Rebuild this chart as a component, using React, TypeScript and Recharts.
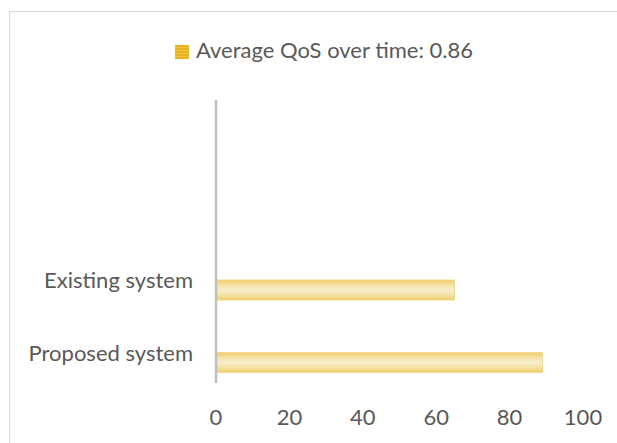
import { Bar, BarChart, XAxis, YAxis, Legend } from 'recharts';

const categories = ['Existing system', 'Proposed system'];
const qosValues = [65, 89];
const xTicks = [0, 20, 40, 60, 80, 100];
const seriesName = 'Average QoS over time: 0.86';

const chartData = categories.map((name, i) => ({ name, qos: qosValues[i] }));

const FONT = 'Lato, "Open Sans", sans-serif';
const TEXT_COLOR = '#595959';

const YTick = ({ x, y, payload }: any) => (
  <text x={x} y={y - 2} textAnchor="end" fill={TEXT_COLOR} fontSize={22} fontFamily={FONT}>
    {payload.value}
  </text>
);

const XTick = ({ x, y, payload }: any) => (
  <text x={x} y={y + 34} textAnchor="middle" fill={TEXT_COLOR} fontSize={22} fontFamily={FONT}>
    {payload.value}
  </text>
);

const LegendContent = () => (
  <div style={{ display: 'flex', alignItems: 'center', height: 22, lineHeight: '22px' }}>
    <span
      style={{
        display: 'inline-block',
        width: 14,
        height: 14,
        marginTop: 3,
        marginRight: 7,
        background: 'repeating-linear-gradient(180deg, #e8b11e 0px, #e8b11e 2px, #f0c445 2px, #f0c445 3px)',
      }}
    />
    <span style={{ fontFamily: FONT, fontSize: 22, color: TEXT_COLOR, whiteSpace: 'nowrap' }}>{seriesName}</span>
  </div>
);

export default function App() {
  return (
    <div
      style={{
        position: 'absolute',
        left: 9,
        top: 11,
        width: 608,
        height: 432,
        borderTop: '1px solid #d9d9d9',
        borderLeft: '1px solid #d9d9d9',
        background: '#fff',
      }}
    >
      <BarChart
        width={607}
        height={431}
        data={chartData}
        layout="vertical"
        margin={{ top: 66, right: 34, bottom: 20, left: 0 }}
      >
        <defs>
          <linearGradient id="qosFill" x1="0" y1="0" x2="0" y2="1">
            <stop offset="0%" stopColor="#eecd68" />
            <stop offset="25%" stopColor="#f5e2a6" />
            <stop offset="50%" stopColor="#f8edcd" />
            <stop offset="75%" stopColor="#f5e2a6" />
            <stop offset="100%" stopColor="#eecd68" />
          </linearGradient>
        </defs>
        <XAxis
          type="number"
          domain={[0, 100]}
          ticks={xTicks}
          axisLine={false}
          tickLine={false}
          height={40}
          tick={<XTick />}
          interval={0}
        />
        <YAxis
          type="category"
          dataKey="name"
          width={206}
          padding={{ top: 154, bottom: -16 }}
          axisLine={{ stroke: '#bfbfbf', strokeWidth: 2.5 }}
          tickLine={false}
          tickMargin={17}
          tick={<YTick />}
          interval={0}
        />
        <Legend
          layout="vertical"
          align="center"
          verticalAlign="top"
          wrapperStyle={{ left: 165, top: 27, width: 'auto' }}
          content={<LegendContent />}
        />
        <Bar
          dataKey="qos"
          name={seriesName}
          fill="url(#qosFill)"
          stroke="#f2d98c"
          strokeWidth={1}
          barSize={20}
          isAnimationActive={false}
        />
      </BarChart>
    </div>
  );
}
